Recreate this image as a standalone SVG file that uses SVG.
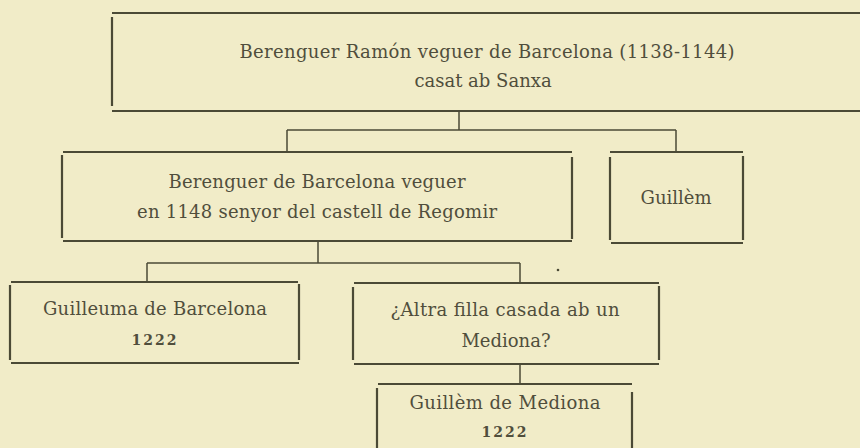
<svg xmlns="http://www.w3.org/2000/svg" width="860" height="448" viewBox="0 0 860 448">
<style>
.bg{fill:#f1ecc8}
.b{fill:none;stroke:#4b4a36;stroke-width:2.2;stroke-linecap:butt}
.c{fill:none;stroke:#4b4a36;stroke-width:1.5}
text{font-family:"DejaVu Serif","Liberation Serif",serif;font-size:18px;fill:#504e3c;text-anchor:middle}
.n{font-size:14px;font-weight:bold;letter-spacing:2px}
</style>
<rect class="bg" x="0" y="0" width="860" height="448"/>
<g id="connectors">
<path class="c" d="M459 111V130M287 130H676M287 130V152M676 130V152"/>
<path class="c" d="M318 241V263M147 263H520M147 263V282M520 263V283"/>
<path class="c" d="M520 364V384"/>
<circle cx="558" cy="270" r="1.3" fill="#4b4a36"/>
</g>
<g id="n1">
<path class="b" d="M112 13H860M112 111H860M112 17V106"/>
<text x="487" y="58" textLength="495" lengthAdjust="spacing">Berenguer Ramón veguer de Barcelona (1138-1144)</text>
<text x="483" y="87">casat ab Sanxa</text>
</g>
<g id="n2">
<path class="b" d="M63 152H572M63 241H572M62 155V238M572 157V239"/>
<text x="317" y="188" textLength="297" lengthAdjust="spacing">Berenguer de Barcelona veguer</text>
<text x="317" y="218" textLength="360" lengthAdjust="spacing">en 1148 senyor del castell de Regomir</text>
</g>
<g id="n3">
<path class="b" d="M610 152H743M611 243H743M610 157V240M743 156V240"/>
<text x="676" y="204">Guillèm</text>
</g>
<g id="n4">
<path class="b" d="M11 282H298M11 363H299M10 285V360M299 284V360"/>
<text x="155" y="315" textLength="224" lengthAdjust="spacing">Guilleuma de Barcelona</text>
<text class="n" x="155" y="345">1222</text>
</g>
<g id="n5">
<path class="b" d="M354 283H659M354 364H659M353 287V360M659 286V360"/>
<text x="505" y="316" textLength="229" lengthAdjust="spacing">¿Altra filla casada ab un</text>
<text x="506" y="347">Mediona?</text>
</g>
<g id="n6">
<path class="b" d="M378 384H632M377 388V448M632 392V448"/>
<text x="505" y="409" textLength="191" lengthAdjust="spacing">Guillèm de Mediona</text>
<text class="n" x="505" y="437">1222</text>
</g>
</svg>
